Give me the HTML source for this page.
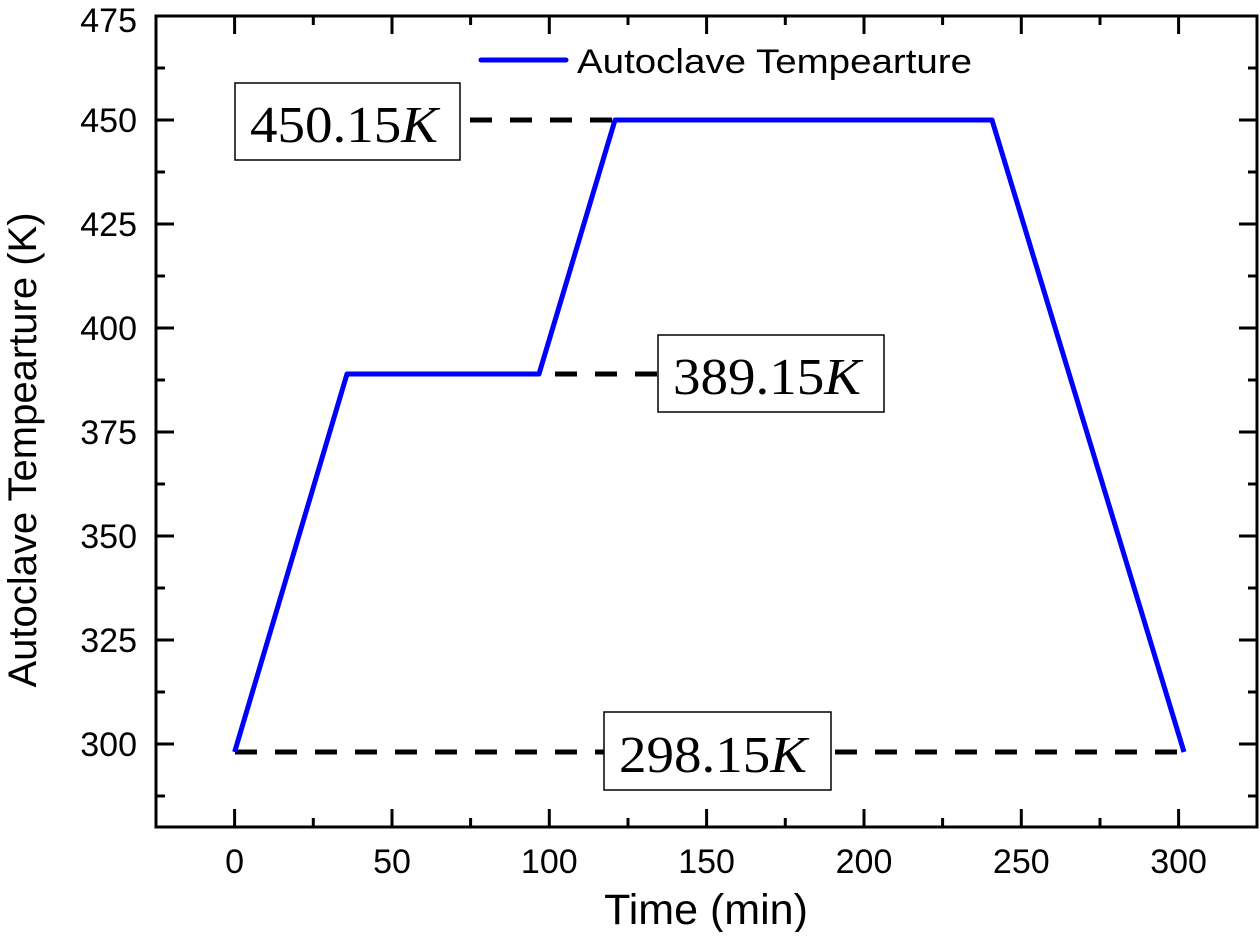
<!DOCTYPE html>
<html><head><meta charset="utf-8"><style>html,body{margin:0;padding:0;background:#fff}</style></head>
<body>
<svg width="1260" height="932" viewBox="0 0 1260 932" xmlns="http://www.w3.org/2000/svg" font-family="Liberation Sans, Arial, sans-serif">
<rect x="0" y="0" width="1260" height="932" fill="#fff"/>
<g stroke="#000" stroke-width="3" fill="none">
<rect x="156" y="16" width="1101" height="811"/>
<path d="M234.6 827v-18M392 827v-18M549.3 827v-18M706.6 827v-18M864 827v-18M1021.3 827v-18M1178.6 827v-18
M234.6 16v18M392 16v18M549.3 16v18M706.6 16v18M864 16v18M1021.3 16v18M1178.6 16v18"/>
<path d="M313.3 827v-9M470.6 827v-9M628 827v-9M785.3 827v-9M942.6 827v-9M1100 827v-9
M313.3 16v9M470.6 16v9M628 16v9M785.3 16v9M942.6 16v9M1100 16v9"/>
<path d="M156 120h18M156 224h18M156 328h18M156 432h18M156 536h18M156 640h18M156 744h18
M1257 120h-18M1257 224h-18M1257 328h-18M1257 432h-18M1257 536h-18M1257 640h-18M1257 744h-18"/>
<path d="M156 68h9M156 172h9M156 276h9M156 380h9M156 484h9M156 588h9M156 692h9M156 796h9
M1257 68h-9M1257 172h-9M1257 276h-9M1257 380h-9M1257 484h-9M1257 588h-9M1257 692h-9M1257 796h-9"/>
</g>
<g stroke="#000" stroke-width="5" stroke-dasharray="22 18" fill="none">
<path d="M235 752H1184"/>
<path d="M470 120H615"/>
<path d="M555 374H660"/>
</g>
<polyline points="234.6,752 347,374 539,374 615,120 992,120 1184,752" fill="none" stroke="#0000ff" stroke-width="5" stroke-linejoin="round"/>
<g fill="#fff" stroke="#000" stroke-width="1.5">
<rect x="235" y="83" width="225" height="77"/>
<rect x="658" y="335" width="226" height="77"/>
<rect x="604" y="712" width="227" height="78"/>
</g>
<g font-family="Liberation Serif, serif" font-size="52" fill="#000">
<text x="250" y="142" textLength="188" lengthAdjust="spacingAndGlyphs">450.15<tspan font-style="italic">K</tspan></text>
<text x="673" y="394" textLength="188" lengthAdjust="spacingAndGlyphs">389.15<tspan font-style="italic">K</tspan></text>
<text x="619" y="772" textLength="188" lengthAdjust="spacingAndGlyphs">298.15<tspan font-style="italic">K</tspan></text>
</g>
<line x1="481" y1="60" x2="566" y2="60" stroke="#0000ff" stroke-width="5" stroke-linecap="round"/>
<text x="577" y="73" font-size="34" textLength="395" lengthAdjust="spacingAndGlyphs">Autoclave Tempearture</text>
<g font-size="34" text-anchor="end" fill="#000">
<text x="137" y="32">475</text><text x="137" y="132">450</text><text x="137" y="236">425</text>
<text x="137" y="340">400</text><text x="137" y="444">375</text><text x="137" y="548">350</text>
<text x="137" y="652">325</text><text x="137" y="756">300</text>
</g>
<g font-size="34" text-anchor="middle" fill="#000">
<text x="234.6" y="873">0</text><text x="392" y="873">50</text><text x="549.3" y="873">100</text>
<text x="706.6" y="873">150</text><text x="864" y="873">200</text><text x="1021.3" y="873">250</text><text x="1178.6" y="873">300</text>
</g>
<text x="706" y="924" font-size="43" text-anchor="middle">Time (min)</text>
<text transform="translate(36,450) rotate(-90)" font-size="40" text-anchor="middle">Autoclave Tempearture (K)</text>
</svg>
</body></html>
